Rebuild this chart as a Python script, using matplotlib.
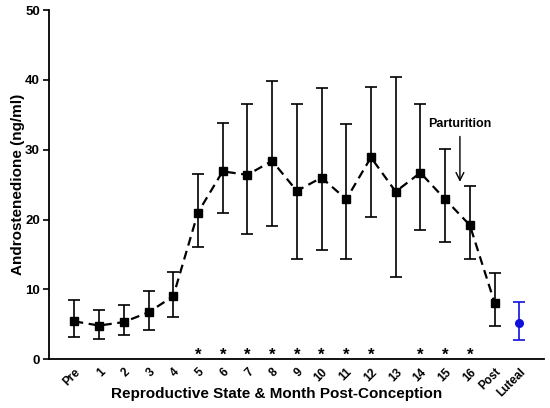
import matplotlib
matplotlib.use("Agg")
import matplotlib.pyplot as plt

plt.rcParams['font.family'] = ['Liberation Sans', 'DejaVu Sans']

categories = ["Pre", "1", "2", "3", "4", "5", "6", "7", "8", "9", "10",
              "11", "12", "13", "14", "15", "16", "Post", "Luteal"]
means = [5.4, 4.8, 5.3, 6.7, 9.0, 21.0, 26.9, 26.4, 28.4, 24.1, 26.0,
         22.9, 28.9, 24.0, 26.7, 22.9, 19.2, 8.1]
upper = [8.4, 7.1, 7.8, 9.8, 12.5, 26.5, 33.8, 36.5, 39.8, 36.5, 38.9,
         33.7, 39.0, 40.4, 36.5, 30.1, 24.8, 12.4]
lower = [3.1, 2.9, 3.4, 4.1, 6.0, 16.1, 21.0, 17.9, 19.0, 14.3, 15.7,
         14.3, 20.3, 11.8, 18.5, 16.8, 14.4, 4.7]
luteal_mean = 5.1
luteal_upper = 8.2
luteal_lower = 2.7
significant = ["5", "6", "7", "8", "9", "10", "11", "12", "14", "15", "16"]

fig = plt.figure(figsize=(5.5, 4.08), dpi=100)
ax = fig.add_axes([0.089, 0.12, 0.9, 0.855])

xs = list(range(len(means)))
yerr = [[m - l for m, l in zip(means, lower)], [u - m for m, u in zip(means, upper)]]
ax.errorbar(xs, means, yerr=yerr, fmt='s', color='black', ms=5.5,
            ecolor='black', elinewidth=1.2, capsize=4, capthick=1.2, zorder=3)
ax.plot(xs, means, linestyle=(0, (4, 2.5)), color='black', lw=1.6, zorder=2)

lx = len(categories) - 1
ax.errorbar([lx], [luteal_mean],
            yerr=[[luteal_mean - luteal_lower], [luteal_upper - luteal_mean]],
            fmt='o', color='#1010dd', ms=5.5, ecolor='#1010dd',
            elinewidth=1.2, capsize=4, capthick=1.2, zorder=3)

for s in significant:
    ax.text(categories.index(s), -0.5, "*", ha='center', va='bottom',
            fontsize=12, fontweight='bold')

ax.text(15.6, 33.7, "Parturition", ha='center', va='center',
        fontsize=9, fontweight='bold')
ax.annotate("", xy=(15.6, 25.0), xytext=(15.6, 32.3),
            arrowprops=dict(arrowstyle='->', color='black', lw=1.0,
                            mutation_scale=14))

ax.set_xlim(-1.03, 19.0)
ax.set_ylim(0, 50)
ax.set_yticks([0, 10, 20, 30, 40, 50])
ax.set_xticks(range(len(categories)))
ax.set_xticklabels(categories, rotation=45, ha='right', rotation_mode='anchor',
                   fontsize=8.5, fontweight='bold')
for lbl in ax.get_yticklabels():
    lbl.set_fontweight('bold')
    lbl.set_fontsize(9.5)
ax.tick_params(axis='x', length=0, pad=5)
ax.tick_params(axis='y', length=4, width=1.2, direction='out', pad=2.5)

ax.spines['top'].set_visible(False)
ax.spines['right'].set_visible(False)
ax.spines['left'].set_linewidth(1.3)
ax.spines['bottom'].set_linewidth(1.3)

ax.set_xlabel("Reproductive State & Month Post-Conception", fontsize=11,
              fontweight='bold', va='center')
ax.xaxis.set_label_coords(0.459, -0.1)
ax.set_ylabel("Androstenedione (ng/ml)", fontsize=11, fontweight='bold',
              va='center')
ax.yaxis.set_label_coords(-0.063, 0.5)

fig.savefig("out.png", dpi=100)
